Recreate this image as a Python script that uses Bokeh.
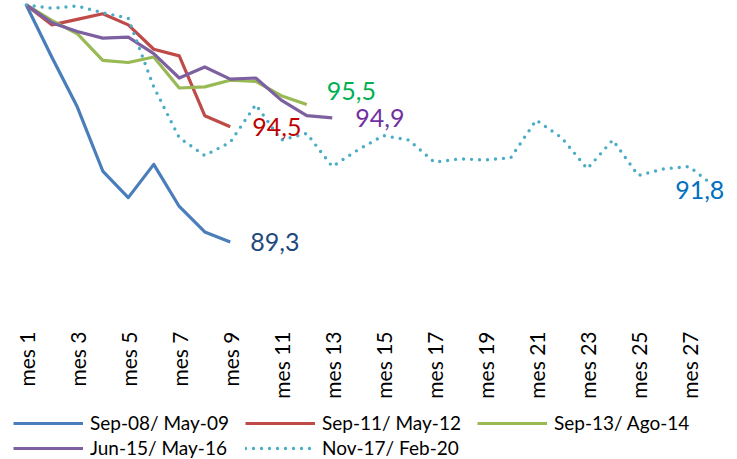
import math
from bokeh.plotting import figure
from bokeh.layouts import column
from bokeh.models import Legend, LegendItem, FixedTicker, ColumnDataSource, Range1d
from bokeh.core.properties import value
from bokeh.embed import file_html
from bokeh.resources import INLINE

# ---- data ----
months = list(range(1, 29))
tick_pos = [1, 3, 5, 7, 9, 11, 13, 15, 17, 19, 21, 23, 25, 27]
tick_labels = ["mes 1", "mes 3", "mes 5", "mes 7", "mes 9", "mes 11", "mes 13",
               "mes 15", "mes 17", "mes 19", "mes 21", "mes 23", "mes 25", "mes 27"]

names = ["Sep-08/ May-09", "Sep-11/ May-12", "Sep-13/ Ago-14", "Jun-15/ May-16", "Nov-17/ Feb-20"]
s_0809 = [100, 97.65, 95.4, 92.5, 91.3, 92.8, 90.9, 89.75, 89.3]
s_1112 = [100, 99.1, 99.35, 99.6, 99.1, 98.0, 97.7, 95.0, 94.5]
s_1314 = [100, 99.3, 98.7, 97.5, 97.4, 97.65, 96.25, 96.3, 96.6, 96.55, 95.9, 95.5]
s_1516 = [100, 99.2, 98.8, 98.5, 98.55, 97.8, 96.7, 97.2, 96.65, 96.7, 95.7, 95.0, 94.9]
s_1720 = [100, 99.85, 99.95, 99.65, 99.4, 96.3, 94.0, 93.2, 93.8, 95.5, 93.9, 94.2, 92.7,
          93.45, 94.1, 93.9, 92.9, 93.05, 93.0, 93.1, 94.8, 94.0, 92.6, 93.9, 92.3, 92.6,
          92.7, 91.8]
series = [s_0809, s_1112, s_1314, s_1516, s_1720]

line_colors = ["#4A7EBB", "#BE4B48", "#98B954", "#7D60A0", "#4BACC6"]
label_colors = ["#1F497D", "#C00000", "#00B050", "#7030A0", "#0070C0"]

FONT = "Lato"

def line_style(i):
    if i == 4:
        return dict(line_color=line_colors[i], line_width=3.4, line_dash="0 8", line_cap="round")
    return dict(line_color=line_colors[i], line_width=3.2, line_join="round")

p = figure(width=737, height=412, output_backend="svg", toolbar_location=None,
           x_range=Range1d(0.5, 28.5), y_range=Range1d(85.48, 100.2),
           y_axis_location=None, min_border_left=13, min_border_right=10,
           min_border_top=0, min_border_bottom=86)
p.grid.visible = False
p.outline_line_color = None
p.background_fill_color = "white"
p.border_fill_color = "white"

xa = p.xaxis[0]
xa.ticker = FixedTicker(ticks=tick_pos)
xa.major_label_overrides = {t: l for t, l in zip(tick_pos, tick_labels)}
xa.major_label_orientation = math.pi / 2
xa.axis_line_color = None
xa.major_tick_line_color = None
xa.minor_tick_line_color = None
xa.major_tick_out = 0
xa.major_tick_in = 0
xa.major_label_standoff = 5
xa.major_label_text_font = FONT
xa.major_label_text_font_size = "21px"
xa.major_label_text_color = "#000000"

for i, s in enumerate(series):
    src = ColumnDataSource(dict(x=months[:len(s)], y=s))
    p.line("x", "y", source=src, **line_style(i))

# end-value labels
offsets = [(20, 0, "left"), (22, 0, "left"), (20, -14, "left"), (23, 0, "left"), (-15, 3, "center")]
for i, s in enumerate(series):
    txt = f"{s[-1]:.1f}".replace(".", ",")
    dx, dy, al = offsets[i]
    p.text(x=[len(s)], y=[s[-1]], text=[txt], text_color=label_colors[i],
           text_font=value(FONT), text_font_size="25px", text_align=al,
           text_baseline="middle", x_offset=dx, y_offset=dy)

# ---- legend strip (swatch renderers sit outside this strip's visible range) ----
pl = figure(width=737, height=47, output_backend="svg", toolbar_location=None,
            x_range=Range1d(0, 1), y_range=Range1d(0, 1),
            x_axis_location=None, y_axis_location=None,
            min_border_left=13, min_border_right=0, min_border_top=0, min_border_bottom=0)
pl.grid.visible = False
pl.outline_line_color = None
pl.border_fill_color = "white"
pl.background_fill_color = "white"

swatches = [pl.line(x=[5, 6], y=[5, 5], **line_style(i)) for i in range(len(series))]

def make_legend(idx, loc):
    return Legend(items=[LegendItem(label=names[i], renderers=[swatches[i]]) for i in idx],
                  orientation="horizontal", location=loc,
                  glyph_width=70, glyph_height=22, label_standoff=7, label_width=155,
                  label_height=22, spacing=0, padding=0, margin=0,
                  border_line_color=None, background_fill_alpha=0,
                  label_text_font=FONT, label_text_font_size="19px",
                  label_text_color="#000000", label_text_baseline="middle")

pl.add_layout(make_legend([0, 1, 2], (0, 25)), "center")
pl.add_layout(make_legend([3, 4], (0, 0)), "center")

open("out.html", "w").write(file_html(column(p, pl, spacing=0), INLINE))
